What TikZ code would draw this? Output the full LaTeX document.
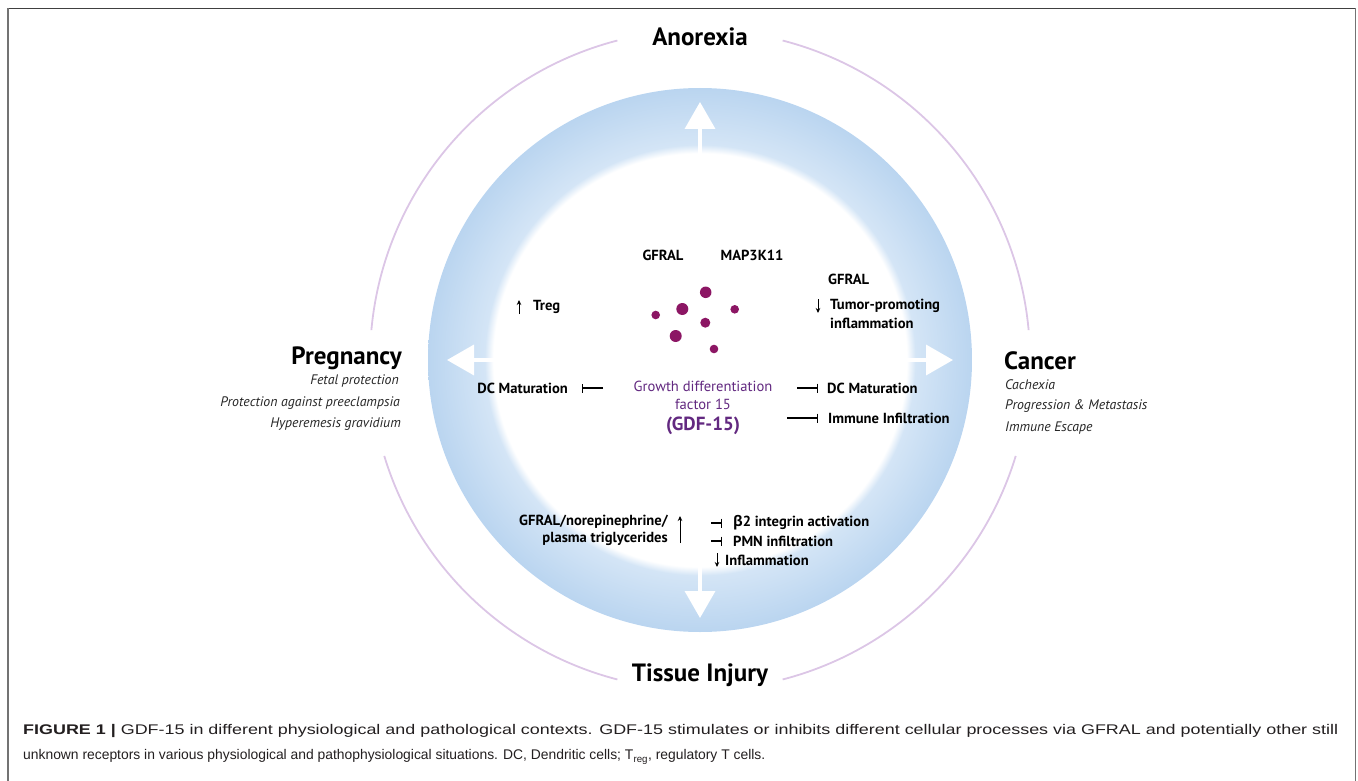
\documentclass[tikz,border=0pt]{standalone}
\usepackage{fontspec}
\usepackage{graphicx}
\setmainfont{PT Sans}
\newfontfamily\grk{Open Sans}
\newfontfamily\capfont{Liberation Sans}
\usetikzlibrary{arrows.meta}
\definecolor{dotc}{RGB}{140,22,100}
\definecolor{gdfc}{RGB}{98,40,128}
\definecolor{ringc}{RGB}{220,198,230}
\definecolor{bluein}{RGB}{212,229,246}
\definecolor{bluemid}{RGB}{146,188,230}
\definecolor{blueout}{RGB}{90,146,208}
\definecolor{capc}{RGB}{35,31,32}
\pgfdeclareradialshading{blueball}{\pgfpoint{0bp}{0bp}}{color(0bp)=(white); color(19bp)=(white); color(19.8bp)=(bluein); color(33bp)=(bluemid); color(50bp)=(blueout)}
\tikzset{
  lab/.style={font=\fontsize{14.6}{16}\selectfont\bfseries, text=black, inner sep=0pt},
  big/.style={font=\fontsize{25}{29}\selectfont\bfseries, text=black, inner sep=0pt},
  itl/.style={font=\fontsize{13.8}{16}\selectfont\itshape, text=black!85, inner sep=0pt},
  bigarrow/.style={white, line width=3.6pt, -{Triangle[width=30pt,length=27pt]}},
  inhib/.style={line width=1.1pt, -{Bar[width=9pt,line width=1.1pt]}},
  smallarr/.style={line width=0.9pt, -{Stealth[length=5pt,width=4.5pt]}},
  ring/.style={ringc, line width=1.8pt},
  dot/.style={circle, fill=dotc, inner sep=0pt},
  gdf/.style={text=gdfc, inner sep=0pt}
}
\begin{document}
\begin{tikzpicture}[x=1pt,y=-1pt]
\useasboundingbox (0,0) rectangle (1358,781);
% frame
\draw[black!75, line width=1.4pt] (7.7,8.3) -- (1355.6,8.3);
\draw[black!55, line width=1.6pt] (7.7,8.3) -- (7.7,781);
\draw[black!55, line width=1.6pt] (1355.6,8.3) -- (1355.6,781);
% outer rings (angles in canvas orientation: 90 = up)
\begin{scope}[shift={(700,360)}]
  \draw[ring] (104.5:330pt) arc[start angle=104.5, end angle=174.8, radius=330pt];
  \draw[ring] (196.9:330pt) arc[start angle=196.9, end angle=255.5, radius=330pt];
  \draw[ring] (284.5:330pt) arc[start angle=284.5, end angle=343.1, radius=330pt];
  \draw[ring] (5.2:330pt) arc[start angle=5.2, end angle=75.5, radius=330pt];
\end{scope}
% blue ball and white core
\shade[shading=blueball] (700,360) circle[radius=272pt];
\node[circle, fill=white, minimum size=214pt, inner sep=0pt] (core) at (700,360) {};
% dots
\node[dot, minimum size=11.5pt] (d1) at (705.7,292.3) {};
\node[dot, minimum size=12pt] (d2) at (682.3,309) {};
\node[dot, minimum size=8.6pt] (d3) at (655.7,315) {};
\node[dot, minimum size=8.6pt] (d4) at (734.7,309.3) {};
\node[dot, minimum size=10pt] (d5) at (705.3,322.7) {};
\node[dot, minimum size=12pt] (d6) at (675.7,336) {};
\node[dot, minimum size=8.6pt] (d7) at (714,349) {};
% GDF text
\node[gdf, font=\fontsize{14.6}{17}\selectfont] (g1) at (703,386) {Growth differentiation};
\node[gdf, font=\fontsize{14.6}{17}\selectfont] (g2) at (703,404) {factor 15};
\node[gdf, font=\fontsize{19}{21}\selectfont\bfseries] (g3) at (703,426) {(GDF-15)};
% big arrows
\coordinate (tipN) at (700,102);
\coordinate (tipS) at (700,618);
\coordinate (tipW) at (447,360);
\coordinate (tipE) at (953,360);
\draw[bigarrow] (core.north) -- (tipN);
\draw[bigarrow] (core.south) -- (tipS);
\draw[bigarrow] (core.west) -- (tipW);
\draw[bigarrow] (core.east) -- (tipE);
% outer labels
\node[big] (anorexia) at (700,37) {Anorexia};
\node[big] (tissue) at (700,675) {Tissue Injury};
\node[big, anchor=east] (preg) at (402,358) {Pregnancy};
\node[itl, anchor=east] (p1) at (399,381) {Fetal protection};
\node[itl, anchor=east] (p2) at (400,403) {Protection against preeclampsia};
\node[itl, anchor=east] (p3) at (401,424) {Hyperemesis gravidium};
\node[big, anchor=west] (cancer) at (1004,361) {Cancer};
\node[itl, anchor=west] (c1) at (1005,385) {Cachexia};
\node[itl, anchor=west] (c2) at (1005,406) {Progression \& Metastasis};
\node[itl, anchor=west] (c3) at (1005,428) {Immune Escape};
% top labels
\node[lab] (gfral1) at (663,255) {GFRAL};
\node[lab] (map) at (752,255) {MAP3K11};
% right side
\node[lab, anchor=west] (gfral2) at (828,279) {GFRAL};
\node[lab, anchor=west] (tumor1) at (830,306) {Tumor-promoting};
\node[lab, anchor=west] (tumor2) at (830,323) {inflammation};
\coordinate (ta0) at (818,299);
\coordinate (ta1) at (818,313);
\draw[smallarr] (ta0) -- (ta1);
\node[lab, anchor=west] (dcr) at (827,388) {DC Maturation};
\coordinate (dcr0) at (797,388);
\coordinate (dcr1) at (818,388);
\draw[inhib] (dcr0) -- (dcr1);
\node[lab, anchor=west] (imm) at (828,418) {Immune Infiltration};
\coordinate (imm0) at (787,418);
\coordinate (imm1) at (818,418);
\draw[inhib] (imm0) -- (imm1);
% left side
\node[lab, anchor=west] (treg) at (533,307) {Treg};
\coordinate (tr0) at (519,314);
\coordinate (tr1) at (519,300);
\draw[smallarr] (tr0) -- (tr1);
\node[lab, anchor=east] (dcl) at (568,388) {DC Maturation};
\coordinate (dcl0) at (603,388);
\coordinate (dcl1) at (582,388);
\draw[inhib] (dcl0) -- (dcl1);
% bottom
\node[lab, anchor=east] (nor1) at (668,522) {GFRAL/norepinephrine/};
\node[lab, anchor=east] (nor2) at (668,539) {plasma triglycerides};
\coordinate (up0) at (680,543);
\coordinate (up1) at (680,516);
\draw[smallarr] (up0) -- (up1);
\node[lab, anchor=west] (b2) at (733,523) {{\grk β}2 integrin activation};
\node[lab, anchor=west] (pmn) at (733,541) {PMN infiltration};
\coordinate (b20) at (711,523);
\coordinate (b21) at (722,523);
\coordinate (pm0) at (711,541);
\coordinate (pm1) at (722,541);
\draw[inhib] (b20) -- (b21);
\draw[inhib] (pm0) -- (pm1);
\node[lab, anchor=west] (infl) at (725,560) {Inflammation};
\coordinate (in0) at (717,553);
\coordinate (in1) at (717,567);
\draw[smallarr] (in0) -- (in1);
% caption
\node[anchor=west, inner sep=0pt, text=capc] (cap1) at (23,731) {\resizebox{1315pt}{\height}{\capfont\fontsize{14}{16}\selectfont\textbf{FIGURE 1 |} GDF-15 in different physiological and pathological contexts. GDF-15 stimulates or inhibits different cellular processes via GFRAL and potentially other still}};
\node[anchor=west, inner sep=0pt, text=capc] (cap2) at (23,757) {\resizebox{742pt}{\height}{\capfont\fontsize{14}{16}\selectfont unknown receptors in various physiological and pathophysiological situations. DC, Dendritic cells; T\textsubscript{reg}, regulatory T cells.}};
\end{tikzpicture}
\end{document}
